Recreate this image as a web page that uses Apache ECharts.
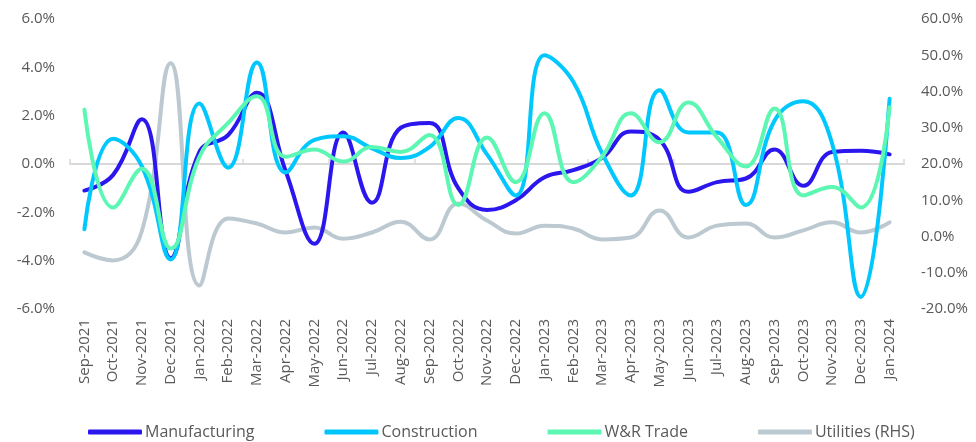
<!DOCTYPE html>
<html>
<head>
<meta charset="utf-8">
<script src="https://cdn.jsdelivr.net/npm/echarts@6/dist/echarts.min.js"></script>
<style>
  html, body { margin: 0; padding: 0; background: #fff; }
  #chart { width: 976px; height: 442px; }
</style>
</head>
<body>
<div id="chart"></div>
<script>
// months
const months = ['Sep-2021','Oct-2021','Nov-2021','Dec-2021','Jan-2022','Feb-2022','Mar-2022','Apr-2022','May-2022','Jun-2022',
  'Jul-2022','Aug-2022','Sep-2022','Oct-2022','Nov-2022','Dec-2022','Jan-2023','Feb-2023','Mar-2023','Apr-2023',
  'May-2023','Jun-2023','Jul-2023','Aug-2023','Sep-2023','Oct-2023','Nov-2023','Dec-2023','Jan-2024']

// left axis, %
const manufacturing = [-1.1, -0.45, 1.85, -3.9, 0.5, 1.2, 2.95, -0.3, -3.3, 1.3,
  -1.6, 1.5, 1.7, -1.0, -1.9, -1.5, -0.55, -0.25, 0.25, 1.35,
  1.0, -1.15, -0.75, -0.6, 0.6, -0.9, 0.5, 0.55, 0.4]
const construction = [-2.7, 1.05, -0.1, -3.95, 2.5, -0.15, 4.2, -0.35, 1.0, 1.15,
  0.65, 0.25, 0.7, 1.9, 0.4, -1.3, 4.5, 3.4, 0.45, -1.3,
  3.05, 1.3, 1.3, -1.7, 1.8, 2.6, 0.85, -5.5, 2.7]
const wrTrade = [2.25, -1.8, -0.2, -3.5, 0.3, 1.7, 2.8, 0.3, 0.6, 0.1,
  0.7, 0.5, 1.2, -1.7, 1.1, -0.75, 2.1, -0.75, 0.3, 2.1,
  0.9, 2.55, 1.1, -0.1, 2.3, -1.3, -0.95, -1.8, 2.35]

// right axis, %
const utilities = [-4.4, -6.6, 1.5, 47.8, -13.5, 5.0, 3.6, 1.1, 2.5, -0.6,
  1.1, 4.1, -0.8, 9.1, 4.4, 0.8, 3.0, 2.2, -0.8, -0.3,
  7.2, -0.3, 3.0, 3.6, -0.3, 1.7, 3.9, 1.1, 3.9]

const textColor = '#595959'
const font = '"Open Sans", Lato, sans-serif'

const chart = echarts.init(document.getElementById('chart'))

function lineSeries(name, data, color, yIndex) {
  return {
    name: name,
    type: 'line',
    data: data,
    yAxisIndex: yIndex,
    smooth: 0.45,
    symbol: 'none',
    lineStyle: { color: color, width: 4, cap: 'round', join: 'round' },
    itemStyle: { color: color },
    z: yIndex === 1 ? 1 : 3
  }
}

chart.setOption({
  animation: false,
  textStyle: { fontFamily: font },
  grid: { left: 70, right: 72, top: 19, bottom: 133 },
  legend: {
    left: 83,
    bottom: -3,
    itemGap: 70,
    itemWidth: 54,
    itemHeight: 5,
    icon: 'roundRect',
    textStyle: { color: textColor, fontSize: 16, fontFamily: font, padding: [0, 0, 0, -2] },
    data: ['Manufacturing', 'Construction', 'W&R Trade', 'Utilities (RHS)']
  },
  xAxis: [
    {
      type: 'category',
      data: months,
      boundaryGap: true,
      axisLine: { show: false, onZero: false },
      axisTick: { show: false },
      axisLabel: { rotate: 90, margin: 10, color: textColor, fontSize: 15, interval: 0 }
    },
    {
      type: 'category',
      data: months,
      boundaryGap: true,
      axisLine: { show: true, onZero: true, onZeroAxisIndex: 0, lineStyle: { color: '#d9d9d9', width: 2 } },
      axisTick: { show: true, length: 5, lineStyle: { color: '#d9d9d9', width: 1.5 } },
      axisLabel: { show: false }
    }
  ],
  yAxis: [
    {
      type: 'value',
      min: -6, max: 6, interval: 2,
      splitLine: { show: false },
      axisLine: { show: false },
      axisTick: { show: false },
      axisLabel: { color: textColor, fontSize: 15, margin: 15, formatter: v => v.toFixed(1) + '%' }
    },
    {
      type: 'value',
      min: -20, max: 60, interval: 10,
      splitLine: { show: false },
      axisLine: { show: false },
      axisTick: { show: false },
      axisLabel: { color: textColor, fontSize: 15, margin: 17, formatter: v => v.toFixed(1) + '%' }
    }
  ],
  series: [
    lineSeries('Utilities (RHS)', utilities, '#BCC9D1', 1),
    lineSeries('Manufacturing', manufacturing, '#2B17EE', 0),
    lineSeries('Construction', construction, '#00C8FF', 0),
    lineSeries('W&R Trade', wrTrade, '#5CF7B2', 0)
  ]
})
</script>
</body>
</html>
